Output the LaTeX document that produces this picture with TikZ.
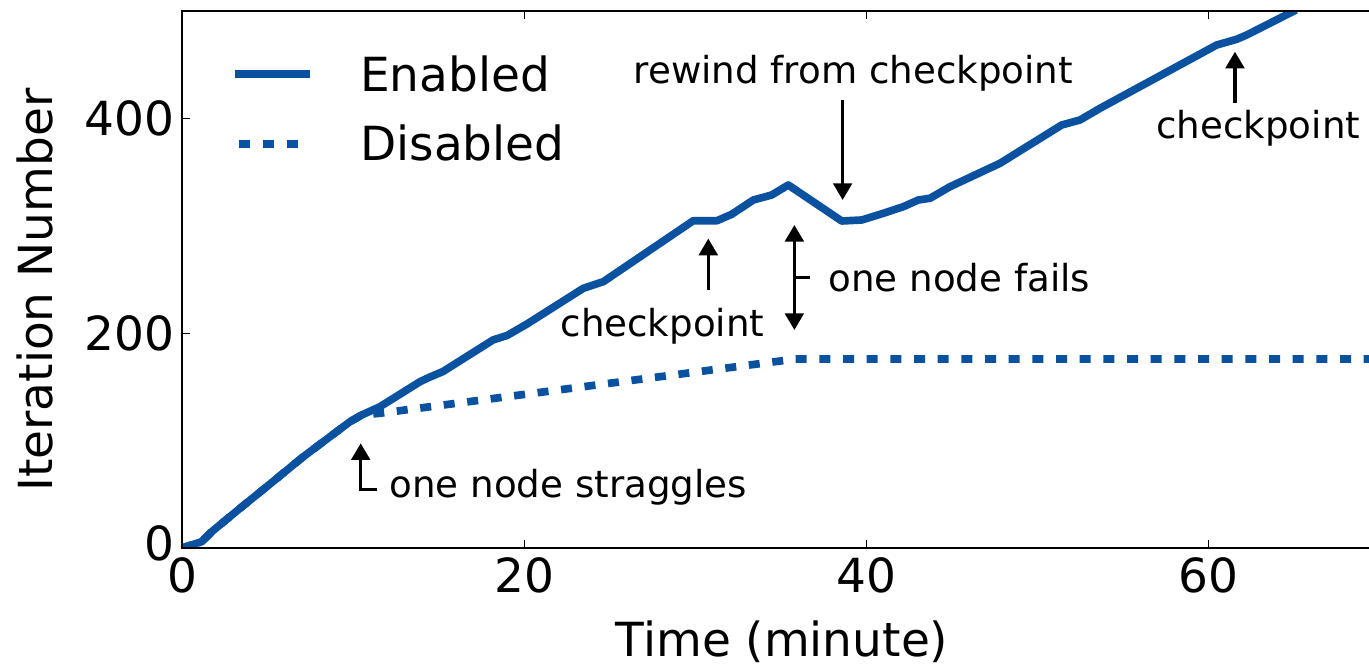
\documentclass[tikz,border=0pt]{standalone}
\usepackage{fontspec}
\setmainfont{DejaVu Sans}
\usetikzlibrary{arrows.meta}
\definecolor{runblue}{RGB}{10,82,160}
\tikzset{
  bigtext/.style={font=\fontsize{35.25pt}{42pt}\selectfont, inner sep=0pt},
  smalltext/.style={font=\fontsize{27.9pt}{33pt}\selectfont, inner sep=0pt},
  enabledline/.style={runblue, line width=5.75pt, line join=round},
  disabledline/.style={runblue, line width=5.75pt, dash pattern=on 8.25pt off 9.5pt},
  spine/.style={black, line width=1.7pt},
  axtick/.style={black, line width=0.75pt},
  headtip/.tip={Triangle[width=14pt,length=12.5pt]},
  notearrow/.style={black, line width=2.5pt, -headtip},
  bothways/.style={black, line width=2.5pt, headtip-headtip},
  noteline/.style={black, line width=2.5pt},
}
\begin{document}
\begin{tikzpicture}[x=0.75pt,y=0.75pt]
\useasboundingbox (0,0) rectangle (1369,664);
% axes: x in minutes, y in iterations
\begin{scope}[shift={(136.5pt,87pt)}, x=12.8325pt, y=0.805125pt]
  \begin{scope}
    \clip (0,0) rectangle (70,500);
    % straggler mitigation disabled
    \draw[disabledline] (0,0) -- (1.151,5.87) -- (1.736,15.18) -- (3.390,36.98)
      -- (4.950,57.10) -- (7.090,85.05) -- (9.819,117.65) -- (10.503,123.89)
      -- (11.572,125.5) -- (35.83,176) -- (70,176);
    % straggler mitigation enabled
    \draw[enabledline] (0,0) -- (1.151,5.87) -- (1.736,15.18) -- (3.390,36.98)
      -- (4.950,57.10) -- (7.090,85.05) -- (9.819,117.65) -- (10.503,123.89)
      -- (11.572,131.63) -- (13.910,154.91) -- (14.494,159.29) -- (15.254,164.42)
      -- (18.176,193.76) -- (18.995,197.95) -- (20.146,208.5) -- (23.454,241.92)
      -- (24.623,248.07) -- (29.883,304.89) -- (31.268,304.89) -- (32.127,310.85)
      -- (33.390,324.17) -- (34.465,328.83) -- (35.435,338.15) -- (38.556,304.61)
      -- (39.725,305.54) -- (40.988,311.78) -- (42.157,317.93) -- (43.033,324.17)
      -- (43.717,325.76) -- (44.886,336.56) -- (47.808,358.36) -- (51.414,394.04)
      -- (52.484,398.70) -- (53.653,409.59) -- (60.473,468.56) -- (61.642,473.87)
      -- (62.226,477.88) -- (65.109,501.2);
  \end{scope}

  % frame
  \draw[spine] (69.4,500) -- (0,500) -- (0,0) -- (69.4,0);
  \foreach \t in {20,40,60} {
    \draw[axtick] (\t,0) -- (\t,7.45);
    \draw[axtick] (\t,500) -- (\t,492.55);
    \node[bigtext, anchor=base] (xt\t) at (\t,-41) {\t};
  }
  \node[bigtext, anchor=base] (xt0) at (0,-41) {0};
  \foreach \v in {200,400} {
    \draw[axtick] (0,\v) -- (0.47,\v);
    \node[bigtext, anchor=east] (yt\v) at (-0.45,\v) {\v};
  }
  \node[bigtext, anchor=east] (yt0) at (-0.45,4.5) {0};

  % axis titles
  \node[bigtext, anchor=base] (xlab) at (35.07,-101.1) {Time (minute)};
  \node[bigtext, anchor=base, rotate=90] (ylab) at (-7.54,240.3) {Iteration Number};

  % legend
  \coordinate (legEnA) at (3.10,441.5);
  \coordinate (legEnB) at (7.48,441.5);
  \coordinate (legDiA) at (3.349,376.06);
  \coordinate (legDiB) at (6.797,376.06);
  \draw[enabledline] (legEnA) -- (legEnB);
  \draw[disabledline] (legDiA) -- (legDiB);
  \node[bigtext, anchor=base west] (legEn) at (10.403,425.7) {Enabled};
  \node[bigtext, anchor=base west] (legDi) at (10.403,360.5) {Disabled};

  % events
  \node[smalltext, anchor=base] (rewind) at (39.24,432.9) {rewind from checkpoint};
  \coordinate (rwTail) at (38.61,417.3);
  \coordinate (rwTip) at (38.61,324.2);
  \draw[notearrow] (rwTail) -- (rwTip);

  \node[smalltext, anchor=base] (ckA) at (28.08,196.8) {checkpoint};
  \coordinate (ckATail) at (30.76,240.3);
  \coordinate (ckATip) at (30.76,288.2);
  \draw[notearrow] (ckATail) -- (ckATip);

  \node[smalltext, anchor=base west] (fail) at (37.77,238.8) {one node fails};
  \coordinate (failLow) at (35.79,203.1);
  \coordinate (failHigh) at (35.79,300.9);
  \coordinate (failBar) at (35.79,251.8);
  \coordinate (failLead) at (36.70,251.8);
  \draw[bothways] (failLow) -- (failHigh);
  \draw[noteline] (failLead) -- (failBar);

  \node[smalltext, anchor=base west] (strag) at (12.116,47.2) {one node straggles};
  \coordinate (stLead) at (11.379,54.7);
  \coordinate (stBend) at (10.444,54.7);
  \coordinate (stTip) at (10.444,97.5);
  \draw[notearrow] (stLead) -- (stBend) -- (stTip);

  \node[smalltext, anchor=base west] (ckB) at (56.93,381.7) {checkpoint};
  \coordinate (ckBTail) at (61.54,414.3);
  \coordinate (ckBTip) at (61.54,462.3);
  \draw[notearrow] (ckBTail) -- (ckBTip);
\end{scope}
\end{tikzpicture}
\end{document}
